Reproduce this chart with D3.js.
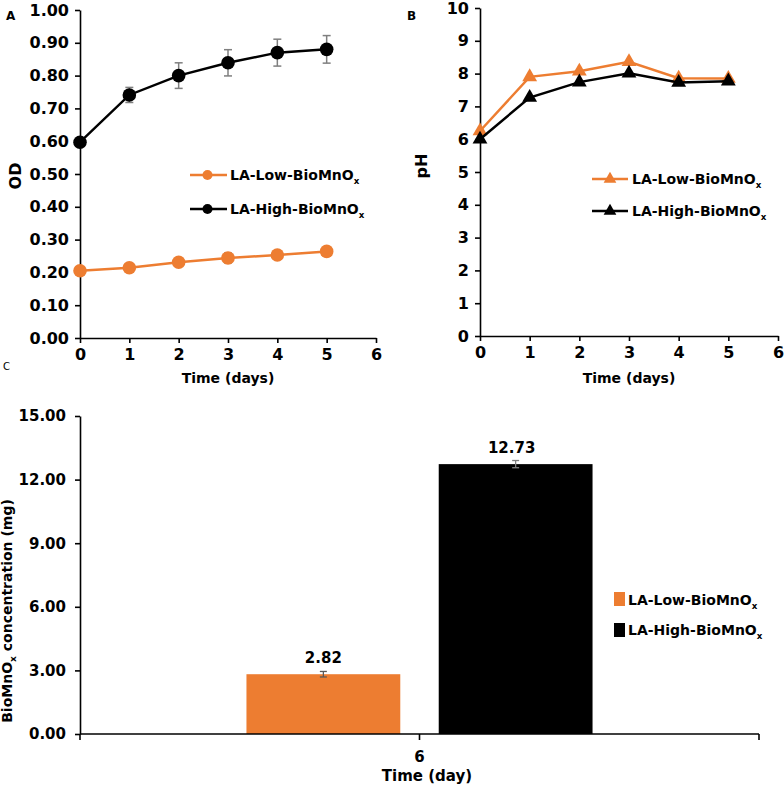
<!DOCTYPE html>
<html>
<head>
<meta charset="utf-8">
<script src="https://cdn.jsdelivr.net/npm/d3@7"></script>
<style>
  html, body { margin: 0; padding: 0; background: #fff; }
  svg { display: block; }
  text { font-family: "DejaVu Sans", Verdana, sans-serif; }
</style>
</head>
<body>
<svg id="chart" width="784" height="786"></svg>
<script>
// ---------- data ----------
const days = [0, 1, 2, 3, 4, 5];
const odLow = [0.205, 0.214, 0.231, 0.244, 0.253, 0.264];
const odLowErr = [0.005, 0.006, 0.008, 0.015, 0.008, 0.008];
const odHigh = [0.597, 0.741, 0.800, 0.839, 0.870, 0.880];
const odHighErr = [0.005, 0.023, 0.039, 0.040, 0.041, 0.042];
const phLow = [6.25, 7.90, 8.07, 8.36, 7.86, 7.85];
const phHigh = [6.00, 7.27, 7.74, 8.01, 7.73, 7.77];
const seriesNames = ["LA-Low-BioMnO", "LA-High-BioMnO"];
const barCategories = ["6"];
const barValues = [2.82, 12.73];
const barErrors = [0.13, 0.17];
const odTicks = [0, 0.1, 0.2, 0.3, 0.4, 0.5, 0.6, 0.7, 0.8, 0.9, 1.0];
const phTicks = [0, 1, 2, 3, 4, 5, 6, 7, 8, 9, 10];
const dayTicks = [0, 1, 2, 3, 4, 5, 6];
const concTicks = [0, 3, 6, 9, 12, 15];

const ORANGE = "#ED7D31";
const BLACK = "#000000";
const ERRC = "#7f7f7f";
const colors = [ORANGE, BLACK];

const svg = d3.select("#chart");
svg.append("rect").attr("width", 784).attr("height", 786).attr("fill", "#fff");

function styleAxis(g, fs) {
  g.selectAll("path.domain").attr("stroke", "#000").attr("stroke-width", 1.6);
  g.selectAll(".tick line").attr("stroke", "#000").attr("stroke-width", 1.6);
  g.selectAll(".tick text").attr("font-family", "DejaVu Sans").attr("font-weight", "bold")
    .attr("font-size", fs || 16).attr("fill", "#000");
}

function legendText(g, x, y, name, size) {
  const t = g.append("text").attr("x", x).attr("y", y)
    .attr("font-weight", "bold").attr("font-size", size).attr("fill", "#000");
  t.append("tspan").text(name);
  t.append("tspan").text("x").attr("font-size", size * 0.62).attr("dy", size * 0.3);
  return t;
}

// ---------- Panel A ----------
{
  const x = d3.scaleLinear().domain([0, 6]).range([80, 376]);
  const y = d3.scaleLinear().domain([0, 1]).range([338, 10]);
  const g = svg.append("g");
  const ya = g.append("g").attr("transform", `translate(${x(0)},0)`)
    .call(d3.axisLeft(y).tickValues(odTicks).tickFormat(d3.format(".2f")).tickSize(5).tickSizeOuter(0).tickPadding(6));
  styleAxis(ya, 16);
  const xa = g.append("g").attr("transform", `translate(0,${y(0)})`)
    .call(d3.axisBottom(x).tickValues(dayTicks).tickFormat(d3.format("d")).tickSize(5).tickSizeOuter(0).tickPadding(6));
  styleAxis(xa, 16);

  const sets = [
    { v: odLow, e: odLowErr, c: ORANGE },
    { v: odHigh, e: odHighErr, c: BLACK }
  ];
  const line = d3.line().x((d, i) => x(days[i])).y(d => y(d));
  sets.forEach(s => {
    const eb = g.append("g");
    days.forEach((d, i) => {
      const cx = x(d), y1 = y(s.v[i] + s.e[i]), y2 = y(s.v[i] - s.e[i]);
      eb.append("line").attr("x1", cx).attr("x2", cx).attr("y1", y1).attr("y2", y2).attr("stroke", ERRC).attr("stroke-width", 1.5);
      eb.append("line").attr("x1", cx - 4).attr("x2", cx + 4).attr("y1", y1).attr("y2", y1).attr("stroke", ERRC).attr("stroke-width", 1.5);
      eb.append("line").attr("x1", cx - 4).attr("x2", cx + 4).attr("y1", y2).attr("y2", y2).attr("stroke", ERRC).attr("stroke-width", 1.5);
    });
    g.append("path").datum(s.v).attr("d", line).attr("fill", "none").attr("stroke", s.c).attr("stroke-width", 2.5);
    g.selectAll(null).data(s.v).enter().append("circle")
      .attr("cx", (d, i) => x(days[i])).attr("cy", d => y(d)).attr("r", 6.8).attr("fill", s.c);
  });

  // legend
  const lg = g.append("g");
  [175, 209].forEach((ly, k) => {
    lg.append("line").attr("x1", 190).attr("x2", 227).attr("y1", ly).attr("y2", ly).attr("stroke", colors[k]).attr("stroke-width", 2.5);
    lg.append("circle").attr("cx", 207.5).attr("cy", ly).attr("r", 5).attr("fill", colors[k]);
    legendText(lg, 230, ly + 5, seriesNames[k], 14);
  });

  g.append("text").attr("x", 228).attr("y", 383).attr("text-anchor", "middle")
    .attr("font-weight", "bold").attr("font-size", 14).text("Time (days)");
  g.append("text").attr("transform", `translate(21,${(y(0) + y(1)) / 2 + 2}) rotate(-90)`).attr("text-anchor", "middle")
    .attr("font-weight", "bold").attr("font-size", 16).text("OD");
  g.append("text").attr("x", 6).attr("y", 20).attr("font-weight", "bold").attr("font-size", 12).text("A");
}

// ---------- Panel B ----------
{
  const x = d3.scaleLinear().domain([0, 6]).range([480, 778]);
  const y = d3.scaleLinear().domain([0, 10]).range([336, 8]);
  const g = svg.append("g");
  const ya = g.append("g").attr("transform", `translate(${x(0)},0)`)
    .call(d3.axisLeft(y).tickValues(phTicks).tickFormat(d3.format("d")).tickSize(5).tickSizeOuter(0).tickPadding(6));
  styleAxis(ya, 16);
  const xa = g.append("g").attr("transform", `translate(0,${y(0)})`)
    .call(d3.axisBottom(x).tickValues(dayTicks).tickFormat(d3.format("d")).tickSize(5).tickSizeOuter(0).tickPadding(6));
  styleAxis(xa, 16);

  const sets = [
    { v: phLow, c: ORANGE },
    { v: phHigh, c: BLACK }
  ];
  const line = d3.line().x((d, i) => x(days[i])).y(d => y(d));
  const tri = d3.symbol().type(d3.symbolTriangle).size(95);
  sets.forEach(s => {
    g.append("path").datum(s.v).attr("d", line).attr("fill", "none").attr("stroke", s.c).attr("stroke-width", 2.5);
    g.selectAll(null).data(s.v).enter().append("path")
      .attr("transform", (d, i) => `translate(${x(days[i])},${y(d)})`).attr("d", tri).attr("fill", s.c);
  });

  const lg = g.append("g");
  const triL = d3.symbol().type(d3.symbolTriangle).size(70);
  [179, 211].forEach((ly, k) => {
    lg.append("line").attr("x1", 592).attr("x2", 628).attr("y1", ly).attr("y2", ly).attr("stroke", colors[k]).attr("stroke-width", 2.5);
    lg.append("path").attr("transform", `translate(610,${ly})`).attr("d", triL).attr("fill", colors[k]);
    legendText(lg, 632, ly + 5, seriesNames[k], 14);
  });

  g.append("text").attr("x", 629).attr("y", 383).attr("text-anchor", "middle")
    .attr("font-weight", "bold").attr("font-size", 14).text("Time (days)");
  g.append("text").attr("transform", `translate(427,${(y(0) + y(10)) / 2 - 6}) rotate(-90)`).attr("text-anchor", "middle")
    .attr("font-weight", "bold").attr("font-size", 16).text("pH");
  g.append("text").attr("x", 407).attr("y", 20).attr("font-weight", "bold").attr("font-size", 12).text("B");
}

// ---------- Panel C ----------
{
  const x0 = d3.scaleBand().domain(barCategories).range([80, 759]).paddingInner(0).paddingOuter(0.481);
  const x1 = d3.scaleBand().domain(seriesNames).range([0, x0.bandwidth()]).paddingInner(0.2);
  const y = d3.scaleLinear().domain([0, 15]).range([734, 416]);
  const g = svg.append("g");

  const ya = g.append("g").attr("transform", `translate(80,0)`)
    .call(d3.axisLeft(y).tickValues(concTicks).tickFormat(d3.format(".2f")).tickSize(5).tickSizeOuter(0).tickPadding(9));
  styleAxis(ya, 15);

  // bars
  barCategories.forEach(cat => {
    seriesNames.forEach((s, k) => {
      const bx = x0(cat) + x1(s);
      g.append("rect").attr("x", bx).attr("y", y(barValues[k])).attr("width", x1.bandwidth())
        .attr("height", y(0) - y(barValues[k])).attr("fill", colors[k]);
      const cx = bx + x1.bandwidth() / 2;
      const e1 = y(barValues[k] + barErrors[k]), e2 = y(barValues[k] - barErrors[k]);
      const ec = k === 0 ? "#595959" : "#7f7f7f";
      g.append("line").attr("x1", cx).attr("x2", cx).attr("y1", e1).attr("y2", e2).attr("stroke", ec).attr("stroke-width", 1.3);
      g.append("line").attr("x1", cx - 3.5).attr("x2", cx + 3.5).attr("y1", e1).attr("y2", e1).attr("stroke", ec).attr("stroke-width", 1.3);
      g.append("line").attr("x1", cx - 3.5).attr("x2", cx + 3.5).attr("y1", e2).attr("y2", e2).attr("stroke", ec).attr("stroke-width", 1.3);
      g.append("text").attr("x", cx - (k === 1 ? 4 : 0)).attr("y", e1 - 8).attr("text-anchor", "middle")
        .attr("font-weight", "bold").attr("font-size", 15).text(d3.format(".2f")(barValues[k]));
    });
  });

  // x axis
  const xa = g.append("g").attr("transform", `translate(0,${y(0)})`);
  xa.append("line").attr("x1", 80).attr("x2", 759).attr("y1", 0).attr("y2", 0).attr("stroke", "#000").attr("stroke-width", 1.6);
  const xticks = [80, x0(barCategories[0]) + x0.bandwidth() / 2, 759];
  xticks.forEach(t => xa.append("line").attr("x1", t).attr("x2", t).attr("y1", 0).attr("y2", 6).attr("stroke", "#000").attr("stroke-width", 1.6));
  xa.append("text").attr("x", xticks[1]).attr("y", 28).attr("text-anchor", "middle")
    .attr("font-weight", "bold").attr("font-size", 15).text(barCategories[0]);
  g.append("text").attr("x", 427).attr("y", 781).attr("text-anchor", "middle")
    .attr("font-weight", "bold").attr("font-size", 15).text("Time (day)");

  // y label
  const yl = g.append("text").attr("transform", `translate(12,611) rotate(-90)`)
    .attr("text-anchor", "middle").attr("font-weight", "bold").attr("font-size", 14);
  yl.append("tspan").text("BioMnO");
  yl.append("tspan").text("x").attr("font-size", 9).attr("dy", 4);
  yl.append("tspan").text(" concentration (mg)").attr("dy", -4);

  // legend
  [[590, 605], [621, 635]].forEach((p, k) => {
    g.append("rect").attr("x", 614).attr("y", p[0] + 2).attr("width", 11).attr("height", 14).attr("fill", colors[k]);
    legendText(g, 628, p[1], seriesNames[k], 14);
  });

  g.append("text").attr("x", 3).attr("y", 370).attr("font-size", 10).text("C");
}
</script>
</body>
</html>
